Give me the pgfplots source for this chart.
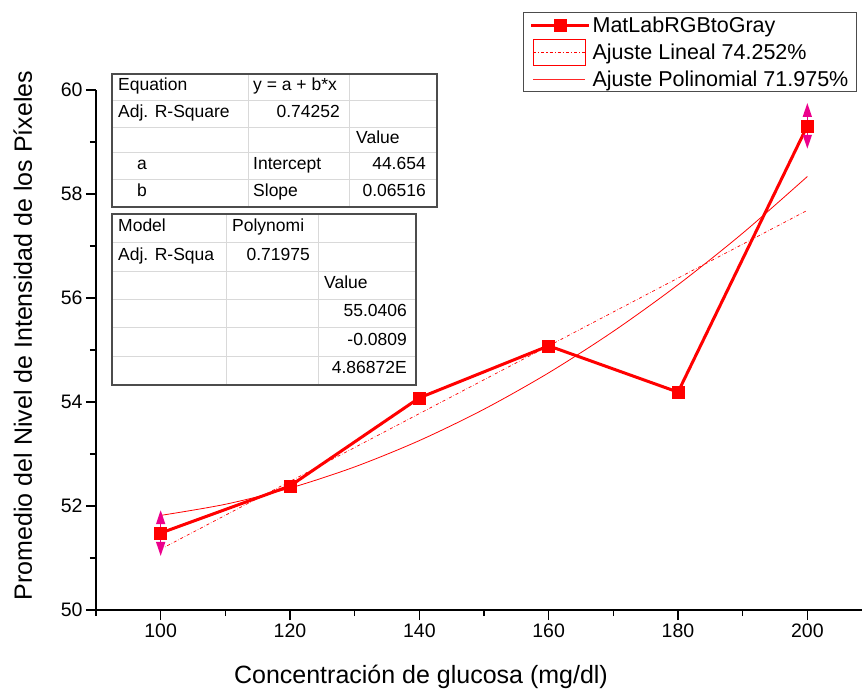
\documentclass[border=0pt]{standalone}
\usepackage{fontspec}
\setmainfont{Liberation Sans}
\usepackage{pgfplots}
\pgfplotsset{compat=1.18}
\usetikzlibrary{arrows.meta}

\newcommand\tf{\fontsize{17.5}{20}\selectfont}

\pgfplotstableread{
x   y
100 51.48
120 52.385
140 54.08
160 55.08
180 54.19
200 59.31
}\datos

% barras de error (solo los extremos tienen barras visibles)
\pgfplotstableread{
x   y     e
100 51.48 0.44
200 59.31 0.44
}\errores

\begin{document}
\begin{tikzpicture}
\begin{axis}[
    width=776pt, height=520pt, scale only axis,
    xmin=90, xmax=210, ymin=50, ymax=60,
    axis x line*=bottom, axis y line*=left,
    axis line style={black, line width=1.5pt},
    xtick={100,120,...,200}, minor x tick num=1,
    ytick={50,52,...,60}, minor y tick num=1,
    extra x ticks={90}, extra x tick labels={},
    extra x tick style={major tick length=6pt},
    tick align=outside,
    major tick length=10pt, minor tick length=6pt,
    every tick/.style={black, line width=1.5pt},
    tick label style={font=\fontsize{19.5}{22}\selectfont},
    /pgf/number format/assume math mode=true,
    xlabel={Concentración de glucosa (mg/dl)},
    ylabel={Promedio del Nivel de Intensidad de los Píxeles},
    label style={font=\fontsize{25}{28}\selectfont},
    xlabel style={at={(rel axis cs:0.4188,-0.1423)}, anchor=base},
    ylabel style={at={(rel axis cs:-0.0825,0.528)}, anchor=base},
    legend cell align=left,
    legend style={at={(rel axis cs:0.5503,1.15)}, anchor=north west,
        draw=gray!60!black, line width=1.2pt,
        font=\fontsize{21.5}{24}\selectfont,
        inner xsep=6pt, inner ysep=2pt, row sep=3pt},
]
\addlegendimage{legend image code/.code={
    \draw[draw=red, solid, line width=3pt] (0pt,0pt) -- (58pt,0pt);
    \fill[red] (23pt,-6pt) rectangle (35pt,6pt);}}
\addlegendentry{MatLabRGBtoGray}
\addlegendimage{legend image code/.code={
    \draw[draw=red, solid, line width=0.8pt] (2pt,-13pt) rectangle (54pt,13pt);
    \draw[draw=red, dash dot, line width=0.8pt] (2pt,0pt) -- (54pt,0pt);}}
\addlegendentry{Ajuste Lineal 74.252\%}
\addlegendimage{legend image code/.code={
    \draw[draw=red!85, solid, line width=1pt] (2pt,0pt) -- (54pt,0pt);}}
\addlegendentry{Ajuste Polinomial 71.975\%}

\addplot[red, dash dot, line width=0.7pt, forget plot]
    coordinates {(100,51.170) (200,57.686)};

\addplot[red, line width=0.8pt, smooth, forget plot]
    coordinates {(100,51.819) (110,52.033) (120,52.344) (130,52.752)
        (140,53.258) (150,53.861) (160,54.561) (170,55.359)
        (180,56.254) (190,57.246) (200,58.336)};

\addplot[red, line width=3pt, mark=square*, mark size=6pt,
    mark options={solid, line width=0.5pt}, forget plot]
    table[x=x, y=y] {\datos};

\addplot[draw=none, mark=none, forget plot,
    error bars/.cd, y dir=both, y explicit, error mark=none,
    error bar style={magenta, line width=1.5pt,
        -{Triangle[length=14pt,width=9pt]}}]
    table[x=x, y=y, y error=e] {\errores};
\end{axis}

\begin{scope}[shift={(current axis.south west)}, xshift=-96pt, yshift=610pt, x=1pt, y=-1pt]
% tabla ajuste lineal
\fill[white] (112,74) rectangle (437,207);
\foreach \yy in {101,128,153,180} \draw[gray!30, line width=1pt] (112,\yy) -- (437,\yy);
\foreach \xx in {248,349} \draw[gray!30, line width=1pt] (\xx,74) -- (\xx,207);
\draw[gray!60!black, line width=1.2pt] (112,74) rectangle (437,207);
\node[anchor=mid west, inner sep=0pt, font=\tf] at (118,87.5) {Equation};
\node[anchor=mid west, inner sep=0pt, font=\tf] at (253,87.5) {y = a + b*x};
\node[anchor=mid west, inner sep=0pt, font=\tf] at (118,114.5) {Adj. R-Square};
\node[anchor=mid east, inner sep=0pt, font=\tf] at (340,114.5) {0.74252};
\node[anchor=mid west, inner sep=0pt, font=\tf] at (356,140.5) {Value};
\node[anchor=mid west, inner sep=0pt, font=\tf] at (137,166.5) {a};
\node[anchor=mid west, inner sep=0pt, font=\tf] at (253,166.5) {Intercept};
\node[anchor=mid east, inner sep=0pt, font=\tf] at (426,166.5) {44.654};
\node[anchor=mid west, inner sep=0pt, font=\tf] at (137,193.5) {b};
\node[anchor=mid west, inner sep=0pt, font=\tf] at (253,193.5) {Slope};
\node[anchor=mid east, inner sep=0pt, font=\tf] at (426,193.5) {0.06516};
% tabla ajuste polinomial
\fill[white] (112,214) rectangle (416,385);
\foreach \yy in {243,272,300,328,357} \draw[gray!30, line width=1pt] (112,\yy) -- (416,\yy);
\foreach \xx in {226,318} \draw[gray!30, line width=1pt] (\xx,214) -- (\xx,385);
\draw[gray!60!black, line width=1.2pt] (112,214) rectangle (416,385);
\node[anchor=mid west, inner sep=0pt, font=\tf] at (118,228.5) {Model};
\node[anchor=mid west, inner sep=0pt, font=\tf] at (232,228.5) {Polynomi};
\node[anchor=mid west, inner sep=0pt, font=\tf] at (118,257.5) {Adj. R-Squa};
\node[anchor=mid east, inner sep=0pt, font=\tf] at (310,257.5) {0.71975};
\node[anchor=mid west, inner sep=0pt, font=\tf] at (324,286) {Value};
\node[anchor=mid east, inner sep=0pt, font=\tf] at (407,314) {55.0406};
\node[anchor=mid east, inner sep=0pt, font=\tf] at (407,342.5) {-0.0809};
\node[anchor=mid east, inner sep=0pt, font=\tf] at (407,371) {4.86872E};
\pgfresetboundingbox
\path (0,0) rectangle (862,688);
\end{scope}
\end{tikzpicture}
\end{document}
